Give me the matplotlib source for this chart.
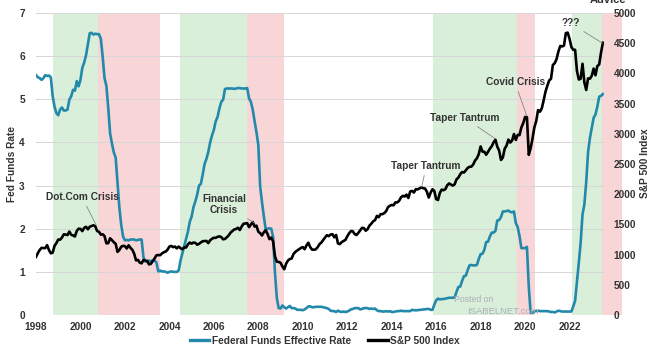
import matplotlib
matplotlib.use("Agg")
import matplotlib.pyplot as plt
import numpy as np

# ---------------- data ----------------
start_year = 1998
fed_funds = [
    5.56, 5.51, 5.49, 5.45, 5.49, 5.56, 5.54, 5.55, 5.51, 5.07, 4.83, 4.68,  # 1998
    4.63, 4.76, 4.81, 4.74, 4.74, 4.76, 4.99, 5.07, 5.22, 5.20, 5.42, 5.30,  # 1999
    5.45, 5.73, 5.85, 6.02, 6.27, 6.53, 6.54, 6.50, 6.52, 6.51, 6.51, 6.40,  # 2000
    5.98, 5.49, 5.31, 4.80, 4.21, 3.97, 3.77, 3.65, 3.07, 2.49, 2.09, 1.82,  # 2001
    1.73, 1.74, 1.73, 1.75, 1.75, 1.75, 1.73, 1.74, 1.75, 1.75, 1.34, 1.24,  # 2002
    1.24, 1.26, 1.25, 1.26, 1.26, 1.22, 1.01, 1.03, 1.01, 1.01, 1.00, 0.98,  # 2003
    1.00, 1.01, 1.00, 1.00, 1.00, 1.03, 1.26, 1.43, 1.61, 1.76, 1.93, 2.16,  # 2004
    2.28, 2.50, 2.63, 2.79, 3.00, 3.04, 3.26, 3.50, 3.62, 3.78, 4.00, 4.16,  # 2005
    4.29, 4.49, 4.59, 4.79, 4.94, 4.99, 5.24, 5.25, 5.25, 5.25, 5.25, 5.24,  # 2006
    5.25, 5.26, 5.26, 5.25, 5.25, 5.25, 5.26, 5.02, 4.94, 4.76, 4.49, 4.24,  # 2007
    3.94, 2.98, 2.61, 2.28, 1.98, 2.00, 2.01, 2.00, 1.81, 0.97, 0.39, 0.16,  # 2008
    0.15, 0.22, 0.18, 0.15, 0.18, 0.21, 0.16, 0.16, 0.15, 0.12, 0.12, 0.12,  # 2009
    0.11, 0.13, 0.16, 0.20, 0.20, 0.18, 0.18, 0.19, 0.19, 0.19, 0.19, 0.18,  # 2010
    0.17, 0.16, 0.14, 0.10, 0.09, 0.09, 0.07, 0.10, 0.08, 0.07, 0.08, 0.07,  # 2011
    0.08, 0.10, 0.13, 0.14, 0.16, 0.16, 0.16, 0.13, 0.14, 0.16, 0.16, 0.16,  # 2012
    0.14, 0.15, 0.14, 0.15, 0.11, 0.09, 0.09, 0.08, 0.08, 0.09, 0.08, 0.09,  # 2013
    0.07, 0.07, 0.08, 0.09, 0.09, 0.10, 0.09, 0.09, 0.09, 0.09, 0.09, 0.12,  # 2014
    0.11, 0.11, 0.11, 0.12, 0.12, 0.13, 0.13, 0.14, 0.14, 0.12, 0.12, 0.24,  # 2015
    0.34, 0.38, 0.36, 0.37, 0.37, 0.38, 0.39, 0.40, 0.40, 0.40, 0.41, 0.54,  # 2016
    0.65, 0.66, 0.79, 0.90, 0.91, 1.04, 1.15, 1.16, 1.15, 1.15, 1.16, 1.30,  # 2017
    1.41, 1.42, 1.51, 1.69, 1.70, 1.82, 1.91, 1.91, 1.95, 2.19, 2.20, 2.27,  # 2018
    2.40, 2.40, 2.41, 2.42, 2.39, 2.38, 2.40, 2.13, 2.04, 1.83, 1.55, 1.55,  # 2019
    1.55, 1.58, 0.65, 0.05, 0.05, 0.08, 0.09, 0.10, 0.09, 0.09, 0.09, 0.09,  # 2020
    0.09, 0.08, 0.07, 0.07, 0.06, 0.08, 0.10, 0.09, 0.08, 0.08, 0.08, 0.08,  # 2021
    0.08, 0.08, 0.20, 0.33, 0.77, 1.21, 1.68, 2.33, 2.56, 3.08, 3.78, 4.10,  # 2022
    4.33, 4.57, 4.65, 4.83, 5.06, 5.08, 5.12,                                # 2023
]
sp500 = [
    963, 1024, 1077, 1112, 1108, 1108, 1157, 1075, 1021, 1033, 1144, 1190,   # 1998
    1249, 1247, 1282, 1335, 1332, 1323, 1381, 1328, 1318, 1300, 1391, 1429,  # 1999
    1426, 1389, 1442, 1461, 1419, 1461, 1473, 1486, 1468, 1390, 1378, 1331,  # 2000
    1336, 1306, 1186, 1190, 1270, 1239, 1205, 1179, 1045, 1077, 1130, 1145,  # 2001
    1140, 1101, 1154, 1112, 1079, 1014, 904, 913, 868, 855, 910, 899,        # 2002
    896, 838, 847, 890, 936, 988, 993, 990, 1019, 1039, 1050, 1081,          # 2003
    1133, 1143, 1124, 1133, 1103, 1133, 1106, 1089, 1118, 1118, 1169, 1199,  # 2004
    1181, 1200, 1195, 1164, 1178, 1202, 1222, 1224, 1226, 1191, 1237, 1262,  # 2005
    1279, 1277, 1294, 1302, 1290, 1253, 1260, 1287, 1318, 1363, 1389, 1416,  # 2006
    1424, 1445, 1407, 1464, 1511, 1515, 1521, 1455, 1497, 1540, 1463, 1479,  # 2007
    1379, 1355, 1317, 1371, 1403, 1341, 1257, 1282, 1217, 969, 883, 878,     # 2008
    866, 805, 757, 848, 902, 926, 936, 1010, 1045, 1068, 1088, 1110,         # 2009
    1124, 1089, 1152, 1197, 1125, 1083, 1080, 1087, 1122, 1172, 1199, 1242,  # 2010
    1283, 1321, 1305, 1332, 1338, 1287, 1325, 1185, 1174, 1207, 1226, 1243,  # 2011
    1301, 1353, 1389, 1386, 1341, 1324, 1360, 1403, 1443, 1438, 1395, 1422,  # 2012
    1480, 1512, 1551, 1571, 1640, 1619, 1669, 1670, 1687, 1720, 1784, 1808,  # 2013
    1822, 1817, 1864, 1864, 1890, 1947, 1973, 1962, 1993, 1937, 2045, 2054,  # 2014
    2028, 2082, 2080, 2095, 2112, 2099, 2094, 2040, 1944, 2025, 2081, 2054,  # 2015
    1919, 1904, 2022, 2076, 2066, 2084, 2149, 2178, 2158, 2143, 2165, 2247,  # 2016
    2275, 2330, 2367, 2359, 2395, 2434, 2454, 2456, 2493, 2557, 2594, 2664,  # 2017
    2790, 2705, 2703, 2654, 2702, 2754, 2794, 2858, 2902, 2786, 2723, 2567,  # 2018
    2607, 2755, 2804, 2904, 2855, 2890, 2996, 2898, 2982, 2978, 3105, 3177,  # 2019
    3278, 3277, 2652, 2762, 2920, 3105, 3208, 3392, 3366, 3419, 3549, 3695,  # 2020
    3794, 3883, 3911, 4141, 4168, 4239, 4364, 4454, 4446, 4461, 4667, 4675,  # 2021
    4574, 4436, 4391, 4391, 4040, 3899, 3912, 4159, 3851, 3726, 3918, 3912,  # 2022
    3961, 4080, 3969, 4122, 4146, 4345, 4508,                                # 2023
]
expansion_periods = [(1998.76, 2000.79), (2004.47, 2007.48), (2015.84, 2019.62), (2022.09, 2023.48)]
crisis_periods = [(2000.79, 2003.57), (2007.48, 2009.15), (2019.62, 2020.43), (2023.48, 2024.34)]
x_ticks = list(range(1998, 2023, 2))
left_ticks = list(range(0, 8))
right_ticks = list(range(0, 5001, 500))
annotations = [
    # label, target date, target S&P value, text date, text S&P value
    ("Dot.Com Crisis", 2000.72, 1480, 2000.07, 1950),
    ("Financial\nCrisis", 2007.85, 1520, 2006.45, 1830),
    ("Taper Tantrum", 2015.35, 2120, 2015.55, 2460),
    ("Taper Tantrum", 2018.65, 2920, 2017.3, 3260),
    ("Covid Crisis", 2020.08, 3290, 2019.55, 3850),
    ("???", 2023.48, 4500, 2022.05, 4830),
]

dates_ff = start_year + np.arange(len(fed_funds)) / 12.0
dates_sp = start_year + np.arange(len(sp500)) / 12.0

# ---------------- styling ----------------
plt.rcParams['font.family'] = ['Liberation Sans', 'DejaVu Sans']
txt_col = '#333333'
ff_col = '#2289ab'
green = '#daefda'
red = '#f8d5d6'

fig = plt.figure(figsize=(6.62, 3.55), dpi=100)
W, H = 662, 355
ax = fig.add_axes([36 / W, 1 - 315 / H, (604 - 36) / W, (315 - 13) / H])
ax2 = ax.twinx()

for s, e in expansion_periods:
    ax.axvspan(s, e, color=green, lw=0, zorder=0)
for s, e in crisis_periods:
    ax.axvspan(s, e, color=red, lw=0, zorder=0, clip_on=False)

ax.set_xlim(1998, 2023.55)
ax.set_ylim(0, 7)
ax2.set_ylim(0, 5000)
ax.set_yticks(left_ticks)
ax2.set_yticks(right_ticks)
ax.set_xticks(x_ticks)
ax.grid(axis='y', color='#d6d6d6', lw=0.7, zorder=0.5)
ax.set_axisbelow(True)

for a in (ax, ax2):
    for sp in a.spines.values():
        sp.set_visible(False)
ax.tick_params(axis='both', length=0, labelsize=7.3, labelcolor=txt_col)
ax.tick_params(axis='x', pad=5)
ax.tick_params(axis='y', pad=8)
ax2.tick_params(axis='y', length=0, labelsize=7.3, labelcolor=txt_col, pad=7)
for lab in ax.get_xticklabels() + ax.get_yticklabels() + ax2.get_yticklabels():
    lab.set_fontweight('bold')

l1, = ax.plot(dates_ff, fed_funds, color=ff_col, lw=1.9, zorder=3,
              label='Federal Funds Effective Rate')
l2, = ax2.plot(dates_sp, sp500, color='black', lw=1.9, zorder=4, label='S&P 500 Index')

fig.text(12 / W, 1 - 164 / H, 'Fed Funds Rate', rotation=90, ha='center', va='center',
         fontsize=7.3, fontweight='bold', color=txt_col)
fig.text(645 / W, 1 - 163 / H, 'S&P 500 Index', rotation=90, ha='center', va='center',
         fontsize=7.3, fontweight='bold', color=txt_col)

for label, tx, ty, lx, ly in annotations:
    ax2.annotate(label, xy=(tx, ty), xytext=(lx, ly), ha='center', va='center',
                 fontsize=7.3, fontweight='bold', color=txt_col, zorder=6,
                 arrowprops=dict(arrowstyle='-', color='#888888', lw=0.6,
                                 shrinkA=1, shrinkB=0))

leg = fig.legend(handles=[l1, l2], loc='center', bbox_to_anchor=(325 / W, 1 - 341 / H),
                 ncol=2, frameon=False, fontsize=7.3, handlelength=1.9,
                 handletextpad=0.25, columnspacing=1.7)
for t in leg.get_texts():
    t.set_fontweight('bold')
    t.set_color(txt_col)
for h in leg.legend_handles:
    h.set_linewidth(2.4)

# watermark
fig.text(454 / W, 1 - 300 / H, 'Posted on', fontsize=6.3, color='#a9b0b8', ha='left', va='center')
fig.text(467 / W, 1 - 311 / H, 'ISABELNET.com', fontsize=6.8, color='#a9b0b8', ha='left', va='center')
fig.text(590 / W, 1.0, 'Advice', fontsize=8, fontweight='bold', color=txt_col, ha='left', va='center')

fig.savefig('out.png', dpi=100)
